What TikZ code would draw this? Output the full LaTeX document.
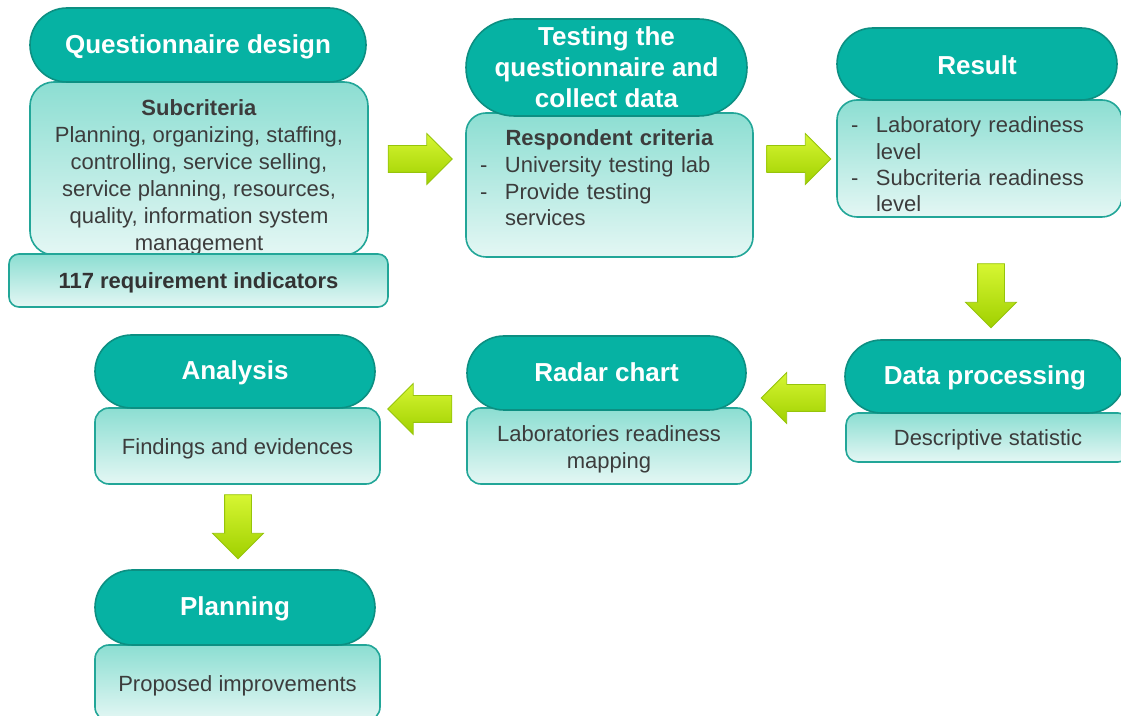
\documentclass[tikz,border=0pt]{standalone}
\usepackage{fontspec}
\setmainfont{Liberation Sans}
\usepackage{tikz}
\usetikzlibrary{positioning}
\usetikzlibrary{shapes.misc}
\usetikzlibrary{shapes.arrows}

\definecolor{headteal}{RGB}{6,178,163}
\definecolor{headedge}{RGB}{12,143,130}
\definecolor{boxtop}{RGB}{140,222,210}
\definecolor{boxbot}{RGB}{228,247,244}
\definecolor{boxedge}{RGB}{34,166,152}
\definecolor{limetop}{RGB}{214,246,50}
\definecolor{limebot}{RGB}{160,208,0}
\definecolor{limeedge}{RGB}{150,196,10}
\definecolor{bodytext}{RGB}{60,60,60}

\newcommand{\itemdash}{\makebox[12.5pt][l]{-}}
\newcommand{\itemgap}{\hspace*{12.5pt}}

\begin{document}
\begin{tikzpicture}[x=0.5pt, y=-0.5pt,
    head/.style={rounded rectangle, draw=headedge, fill=headteal, line width=0.8pt, text=white,
        font=\fontsize{13}{15.5}\selectfont\bfseries, align=center, inner sep=0pt,
        text height=0.85em, text depth=0pt, minimum width=140pt, minimum height=36.5pt},
    box/.style={rectangle, rounded corners=10pt, draw=boxedge, line width=0.8pt,
        top color=boxtop, bottom color=boxbot, text=bodytext,
        font=\fontsize{11}{13.5}\selectfont, align=center, inner sep=0pt,
        text height=0.85em, text depth=0pt, minimum width=142pt},
    boxtext/.style={text=bodytext, font=\fontsize{11}{13.5}\selectfont, inner sep=0pt},
    flow/.style={single arrow, draw=limeedge, line width=0.4pt, top color=limetop, bottom color=limebot,
        minimum height=32pt, minimum width=25pt, single arrow head extend=6pt,
        inner xsep=0pt, inner ysep=6.5pt}]

\useasboundingbox (0,0) rectangle (1121,716);
\clip (0,0) rectangle (1121,716);

% Questionnaire design
\node[box, rounded corners=12pt, minimum width=169pt, minimum height=86.5pt] (qbox) at (199,168.5) {};
\node[boxtext, align=center] (qtxt) at (199,177)
    {\textbf{Subcriteria}\\Planning, organizing, staffing,\\controlling, service selling,\\service planning, resources,\\quality, information system\\management};
\node[head, minimum width=168pt, minimum height=37pt] (qhead) at (198,45) {Questionnaire design};
\node[box, rounded corners=5pt, minimum width=189.5pt, minimum height=26.5pt, text=black!80,
    font=\fontsize{11}{13.5}\selectfont\bfseries] (qind) at (198.5,280.5) {117 requirement indicators};

% Testing the questionnaire
\node[box, minimum width=143.5pt, minimum height=72pt] (tbox) at (609.5,185) {};
\node[head, minimum width=140.5pt, minimum height=48.5pt, text height=, text depth=] (thead) at (606.5,67.5)
    {Testing the\\questionnaire and\\collect data};
\node[boxtext, font=\fontsize{11}{13.3}\selectfont, text width=129.5pt, align=left] (ttxt) at (609.5,178)
    {\makebox[\linewidth]{\textbf{Respondent criteria}}\\\itemdash University testing lab\\\itemdash Provide testing\\\itemgap services};

% Result
\node[box, minimum width=142.5pt, minimum height=58.5pt] (rbox) at (979.5,158.5) {};
\node[boxtext, font=\fontsize{11}{13.2}\selectfont, text width=128.5pt, align=left] (rtxt) at (979.5,164.5)
    {\itemdash Laboratory readiness\\\itemgap level\\\itemdash Subcriteria readiness\\\itemgap level};
\node[head, minimum height=36pt, text height=1.05em] (rhead) at (977,64) {Result};

% Data processing
\node[box, rounded corners=6pt, minimum height=24.5pt] (dbox) at (988,437.5) {Descriptive statistic};
\node[head] (dhead) at (985,376.5) {Data processing};

% Radar chart
\node[box, rounded corners=7pt, minimum height=38pt] (cbox) at (609,446) {};
\node[boxtext, align=center] (ctxt) at (609,449) {Laboratories readiness\\mapping};
\node[head, minimum width=139.5pt, minimum height=37pt] (chead) at (606.5,373) {Radar chart};

% Analysis
\node[box, rounded corners=7pt, minimum width=142.5pt, minimum height=38pt] (abox) at (237.5,446) {Findings and evidences};
\node[head] (ahead) at (235,371.5) {Analysis};

% Planning
\node[box, rounded corners=7pt, minimum width=142.5pt, minimum height=38pt] (pbox) at (237.5,683) {Proposed improvements};
\node[head, minimum height=37.5pt] (phead) at (235,607.5) {Planning};

% Flow arrows
\node[flow] (a1) at (413.5,159) {};
\node[flow] (a2) at (792,159) {};
\node[flow, rotate=-90] (a3) at (991,289) {};
\node[flow, rotate=180] (a4) at (800,398) {};
\node[flow, rotate=180] (a5) at (426.5,409) {};
\node[flow, rotate=-90] (a6) at (238,520) {};

\end{tikzpicture}
\end{document}
